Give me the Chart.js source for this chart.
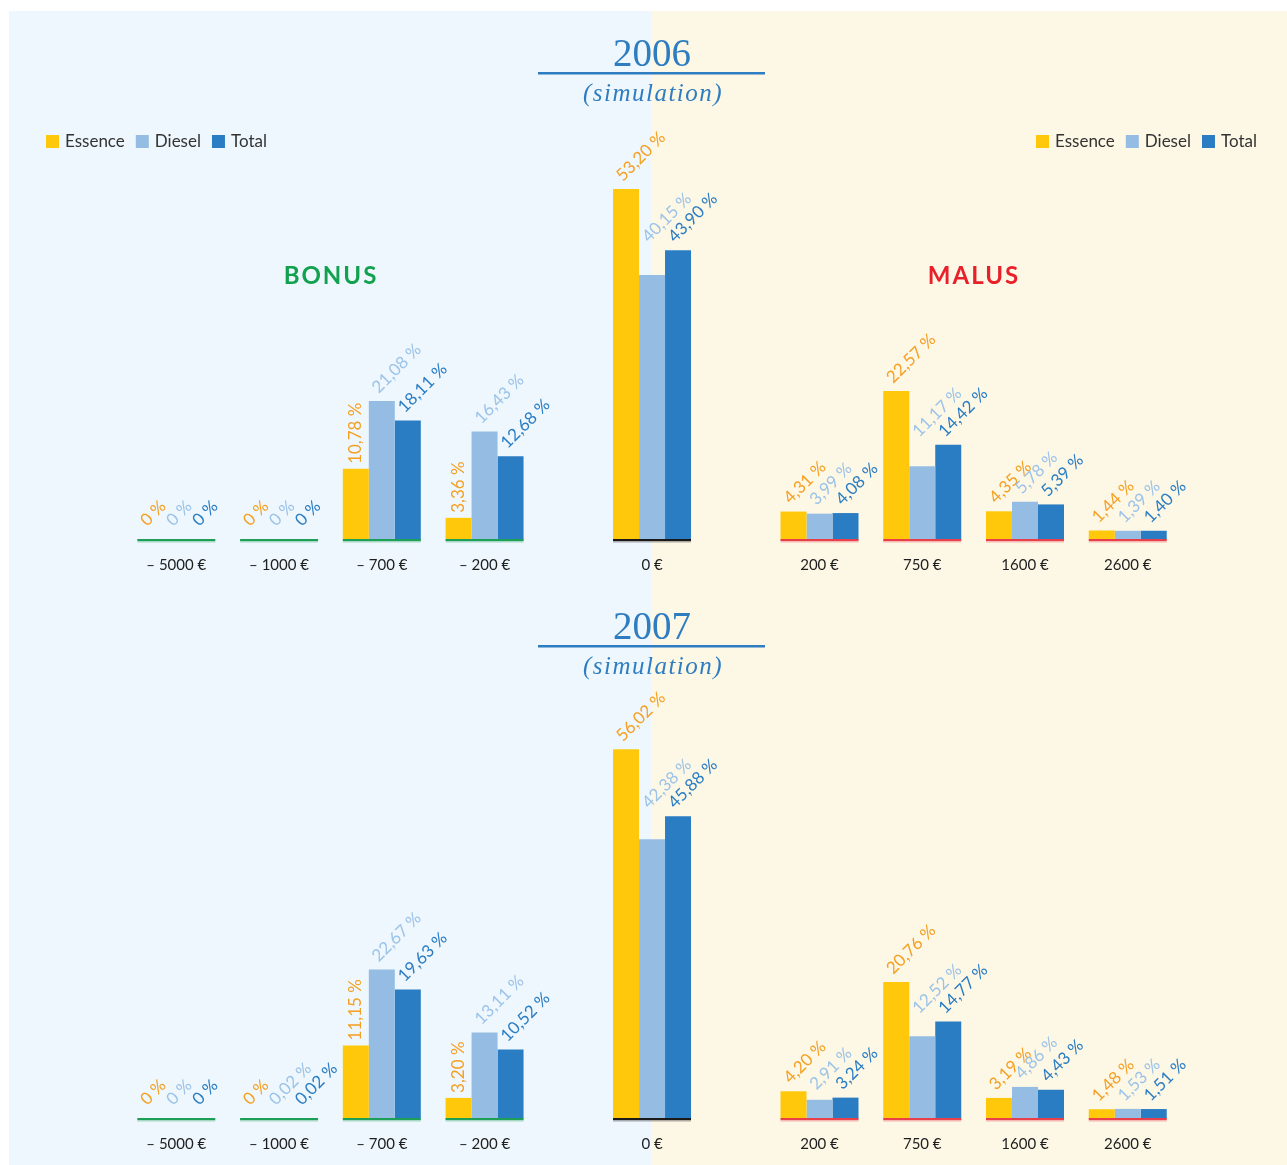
<!DOCTYPE html>
<html><head><meta charset="utf-8">
<script src="https://cdn.jsdelivr.net/npm/chart.js@4.4.1/dist/chart.umd.min.js"></script>
<style>
html,body{margin:0;padding:0;background:#fff;width:1287px;height:1165px;overflow:hidden;position:relative}
#bgL{position:absolute;left:9px;top:11px;width:642px;height:1154px;background:#EEF7FD}
#bgR{position:absolute;left:651px;top:11px;width:636px;height:1154px;background:#FDF7E6}
canvas{position:absolute;left:0}
#c1{top:0}
#c2{top:579px}
</style></head><body>
<div id="bgL"></div><div id="bgR"></div>
<canvas id="c1" width="1287" height="590"></canvas>
<canvas id="c2" width="1287" height="590"></canvas>
<script>
// ---- data ----
const categories = ['– 5000 €','– 1000 €','– 700 €','– 200 €','0 €','200 €','750 €','1600 €','2600 €'];
const seriesNames = ['Essence','Diesel','Total'];
const zones = ['bonus','bonus','bonus','bonus','neutral','malus','malus','malus','malus'];
const essence2006 = [0, 0, 10.78, 3.36, 53.20, 4.31, 22.57, 4.35, 1.44];
const diesel2006  = [0, 0, 21.08, 16.43, 40.15, 3.99, 11.17, 5.78, 1.39];
const total2006   = [0, 0, 18.11, 12.68, 43.90, 4.08, 14.42, 5.39, 1.40];
const essence2007 = [0, 0, 11.15, 3.20, 56.02, 4.20, 20.76, 3.19, 1.48];
const diesel2007  = [0, 0.02, 22.67, 13.11, 42.38, 2.91, 12.52, 4.86, 1.53];
const total2007   = [0, 0.02, 19.63, 10.52, 45.88, 3.24, 14.77, 4.43, 1.51];

// ---- layout / style ----
const slotPos = [0, 1, 2, 3, 4.63, 6.26, 7.26, 8.26, 9.26];
const barColors = ['#FFC80A', '#95BDE4', '#2A7DC3'];
const labelColors = ['#F5A023', '#9CC3E8', '#2A7DC3'];
const zoneColors = {bonus:'#1E9F58', neutral:'#1A1A1A', malus:'#E8404A'};
const SANS = 'Lato, "Open Sans", sans-serif';
const SERIF = '"Liberation Serif", "DejaVu Serif", serif';

function fmt(v){ return v === 0 ? '0 %' : v.toFixed(2).replace('.', ',') + ' %'; }

const decorPlugin = {
  id: 'decor',
  afterDatasetsDraw(chart, args, o) {
    const ctx = chart.ctx;
    const y0 = chart.scales.y.getPixelForValue(0);
    const metas = chart.data.datasets.map((d, i) => chart.getDatasetMeta(i));
    ctx.save();
    // baselines
    categories.forEach((c, j) => {
      const a = metas[0].data[j], b = metas[metas.length - 1].data[j];
      const l = a.x - a.width / 2, r = b.x + b.width / 2;
      ctx.fillStyle = zoneColors[zones[j]];
      ctx.fillRect(l, y0 - 1, r - l, 2);
      ctx.globalAlpha = 0.35;
      ctx.fillRect(l, y0 + 1, r - l, 1.5);
      ctx.globalAlpha = 1;
    });
    // value labels
    ctx.font = '17px ' + SANS;
    categories.forEach((c, j) => {
      metas.forEach((m, i) => {
        const bar = m.data[j];
        const v = chart.data.datasets[i].data[j].y;
        let top = Math.min(bar.y, y0 - 6);
        const next = metas[i + 1] ? metas[i + 1].data[j] : null;
        ctx.fillStyle = labelColors[i];
        ctx.save();
        if (i === 0 && next && next.y < bar.y - 40) {
          ctx.translate(bar.x, top - 5);
          ctx.rotate(-Math.PI / 2);
          ctx.textAlign = 'left'; ctx.textBaseline = 'middle';
        } else {
          if (i === 1 && next) top = Math.min(top, next.y);
          ctx.translate(bar.x - 3, top - 7);
          ctx.rotate(-Math.PI / 4);
          ctx.textAlign = 'left'; ctx.textBaseline = 'alphabetic';
        }
        ctx.fillText(fmt(v), 0, 0);
        ctx.restore();
      });
    });
    // title
    const t = o.titleY;
    ctx.fillStyle = '#2F7DC1';
    ctx.textAlign = 'center'; ctx.textBaseline = 'middle';
    ctx.font = '39px ' + SERIF;
    ctx.fillText(o.year, 652, t);
    ctx.fillRect(538, t + 16, 227, 2.5);
    ctx.font = 'italic 25px ' + SERIF;
    ctx.letterSpacing = '1.5px';
    ctx.fillText('(simulation)', 653, t + 38);
    ctx.letterSpacing = '0px';
    // legends + zone titles
    if (o.legend) {
      ctx.font = '17px ' + SANS;
      ctx.textBaseline = 'middle'; ctx.textAlign = 'left';
      [46, 1036].forEach(x0 => {
        let x = x0;
        chart.data.datasets.forEach((d, i) => {
          ctx.fillStyle = d.backgroundColor;
          ctx.fillRect(x, 135, 13, 13);
          ctx.fillStyle = '#333';
          ctx.fillText(d.label, x + 19, 142);
          x += 19 + ctx.measureText(d.label).width + 11;
        });
      });
      ctx.font = 'bold 24px ' + SANS;
      ctx.letterSpacing = '2px';
      ctx.textAlign = 'center';
      ctx.fillStyle = '#12A24F';
      ctx.fillText('BONUS', 331, 276);
      ctx.fillStyle = '#E8202A';
      ctx.fillText('MALUS', 974, 276);
      ctx.letterSpacing = '0px';
    }
    ctx.restore();
  }
};

function makeChart(id, year, ess, dies, tot, titleY, legend) {
  const series = [ess, dies, tot];
  return new Chart(document.getElementById(id), {
    type: 'bar',
    data: {
      datasets: series.map((arr, i) => ({
        label: seriesNames[i],
        data: arr.map((v, j) => ({x: slotPos[j], y: v})),
        backgroundColor: barColors[i],
        borderWidth: 0,
        categoryPercentage: 0.759,
        barPercentage: 1
      }))
    },
    options: {
      responsive: false,
      animation: false,
      layout: {padding: 0},
      plugins: {legend: {display: false}, tooltip: {enabled: false}, title: {display: false},
        decor: {year: year, titleY: titleY, legend: legend}},
      scales: {
        x: {
          type: 'linear', min: -1.716, max: 10.81, bounds: 'data', offset: false,
          grid: {display: false}, border: {display: false},
          afterBuildTicks: s => { s.ticks = slotPos.map(p => ({value: p})); },
          afterFit: s => { s.height = 50; },
          ticks: {
            autoSkip: false, maxRotation: 0, minRotation: 0, padding: 8,
            color: '#1E1E1E', font: {family: SANS, size: 15},
            callback: (v, i) => categories[i]
          }
        },
        y: {display: false, min: 0, max: 81.82}
      }
    },
    plugins: [decorPlugin]
  });
}

makeChart('c1', '2006', essence2006, diesel2006, total2006, 56, true);
makeChart('c2', '2007', essence2007, diesel2007, total2007, 50, false);
</script>
</body></html>
